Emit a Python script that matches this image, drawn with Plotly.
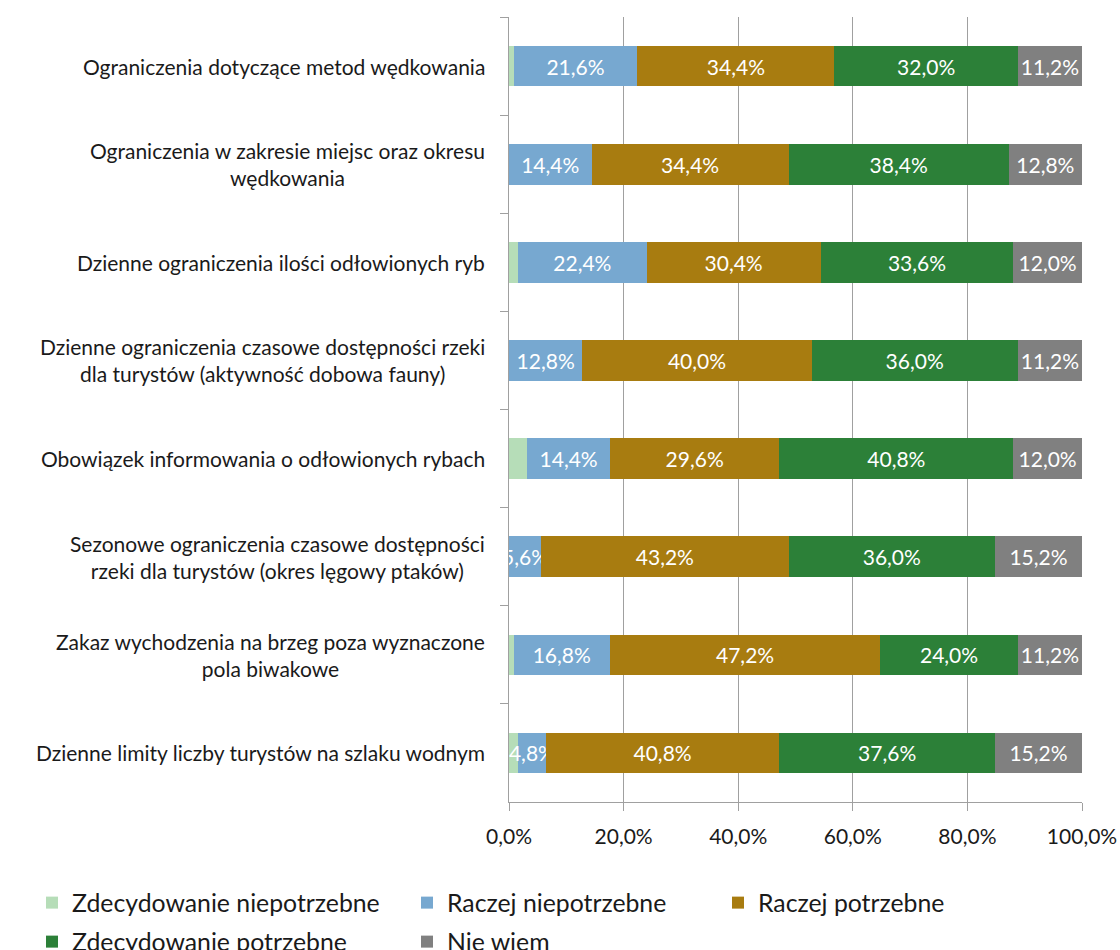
import plotly.graph_objects as go

# Survey questions (top to bottom), with manual line breaks for the axis labels
categories = [
    "Ograniczenia dotyczące metod wędkowania",
    "Ograniczenia w zakresie miejsc oraz okresu<br>wędkowania",
    "Dzienne ograniczenia ilości odłowionych ryb",
    "Dzienne ograniczenia czasowe dostępności rzeki<br>dla turystów (aktywność dobowa fauny)",
    "Obowiązek informowania o odłowionych rybach",
    "Sezonowe ograniczenia czasowe dostępności<br>rzeki dla turystów (okres lęgowy ptaków)",
    "Zakaz wychodzenia na brzeg poza wyznaczone<br>pola biwakowe",
    "Dzienne limity liczby turystów na szlaku wodnym",
]

series_names = [
    "Zdecydowanie niepotrzebne",
    "Raczej niepotrzebne",
    "Raczej potrzebne",
    "Zdecydowanie potrzebne",
    "Nie wiem",
]

zdecydowanie_niepotrzebne = [0.8, 0.0, 1.6, 0.0, 3.2, 0.0, 0.8, 1.6]
raczej_niepotrzebne = [21.6, 14.4, 22.4, 12.8, 14.4, 5.6, 16.8, 4.8]
raczej_potrzebne = [34.4, 34.4, 30.4, 40.0, 29.6, 43.2, 47.2, 40.8]
zdecydowanie_potrzebne = [32.0, 38.4, 33.6, 36.0, 40.8, 36.0, 24.0, 37.6]
nie_wiem = [11.2, 12.8, 12.0, 11.2, 12.0, 15.2, 11.2, 15.2]

x_ticks = [0, 20, 40, 60, 80, 100]

colors = ["#b6ddb8", "#77a8d0", "#a87c10", "#2c8038", "#808080"]
show_labels = [False, True, True, True, True]

FONT = "Lato, 'Open Sans', sans-serif"
TEXT_COLOR = "#1a1a1a"
GRID = "#a0a0a0"
LABEL_SIZE = 21
LEGEND_SIZE = 24.8


def pct(v):
    return f"{v:.1f}".replace(".", ",") + "%"


all_series = [
    zdecydowanie_niepotrzebne,
    raczej_niepotrzebne,
    raczej_potrzebne,
    zdecydowanie_potrzebne,
    nie_wiem,
]

# one legend per series so each entry can sit at its own spot
legend_ids = ["legend", "legend2", "legend3", "legend4", "legend5"]

fig = go.Figure()
keys = list(range(len(categories)))
for i, (name, vals) in enumerate(zip(series_names, all_series)):
    labels = [pct(v) if (show_labels[i] and v > 0) else "" for v in vals]
    fig.add_trace(
        go.Bar(
            name=name,
            y=keys,
            x=vals,
            orientation="h",
            marker=dict(color=colors[i], line=dict(width=0)),
            text=labels,
            textposition="inside",
            insidetextanchor="middle",
            textangle=0,
            constraintext="none",
            insidetextfont=dict(color="white", size=LABEL_SIZE, family=FONT),
            legend=legend_ids[i],
            cliponaxis=False,
        )
    )

# category labels, centred line by line and right-aligned against the axis
for k, cat in zip(keys, categories):
    fig.add_annotation(
        x=0, xref="paper", xanchor="right", xshift=-22,
        y=k, yref="y", yanchor="middle",
        text=cat, align="center", showarrow=False,
        font=dict(family=FONT, size=LABEL_SIZE, color=TEXT_COLOR),
    )

W, H = 1120, 950
plot_left, plot_right, plot_top, plot_bottom = 509, 1082, 17, 802

# legend entries: (left edge px, top edge px) in the page
legend_pos = [(32, 880), (407, 880), (718, 880), (32, 919), (407, 919)]
layout_legends = {}
for lid, (lx, ly) in zip(legend_ids, legend_pos):
    layout_legends[lid] = dict(
        x=lx / W, y=1 - ly / H, xref="container", yref="container",
        xanchor="left", yanchor="top",
        orientation="h", bgcolor="rgba(0,0,0,0)",
        font=dict(family=FONT, size=LEGEND_SIZE, color=TEXT_COLOR),
    )

fig.update_layout(
    width=W,
    height=H,
    margin=dict(l=plot_left, r=W - plot_right, t=plot_top, b=H - plot_bottom,
                autoexpand=False),
    barmode="stack",
    bargap=0.586,
    plot_bgcolor="white",
    paper_bgcolor="white",
    font=dict(family=FONT, size=LABEL_SIZE, color=TEXT_COLOR),
    separators=", ",
    uniformtext=dict(mode="show", minsize=LABEL_SIZE),
    showlegend=True,
    **layout_legends,
)

fig.update_xaxes(
    # a hair past 100 so stacked sums that round to 100 stay in range
    range=[0, 100.0001],
    tickvals=x_ticks,
    ticktext=[pct(v) for v in x_ticks],
    showgrid=True, gridcolor=GRID, gridwidth=1.3,
    showline=True, linecolor=GRID, linewidth=1.3,
    ticks="outside", ticklen=8, tickcolor=GRID, tickwidth=1.3,
    ticklabelstandoff=8,
    tickfont=dict(family=FONT, size=LABEL_SIZE, color=TEXT_COLOR),
    zeroline=False,
    automargin=False,
)

fig.update_yaxes(
    type="category",
    categoryorder="array",
    categoryarray=keys,
    autorange="reversed",
    showticklabels=False,
    showgrid=False,
    showline=True, linecolor=GRID, linewidth=1.3,
    ticks="outside", tickson="boundaries", ticklen=8, tickcolor=GRID, tickwidth=1.3,
    zeroline=False,
    automargin=False,
)

fig.write_html("out.html")
